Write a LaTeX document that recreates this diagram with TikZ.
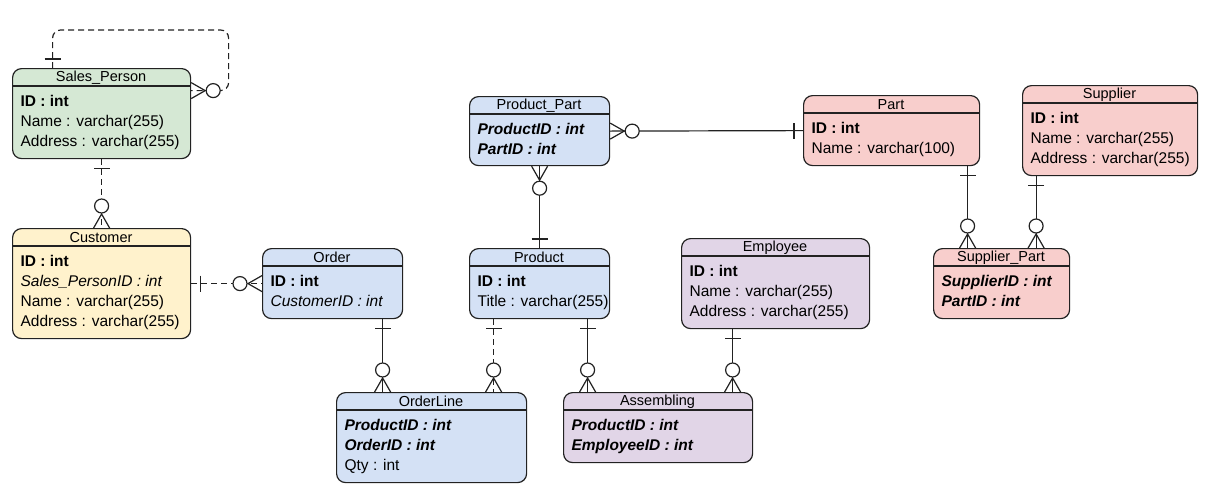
\documentclass[tikz,border=0pt]{standalone}
\usepackage{fontspec}
\setmainfont{Liberation Sans}
\usetikzlibrary{calc}
\definecolor{cgreen}{HTML}{D5E8D4}
\definecolor{cyellow}{HTML}{FFF2CC}
\definecolor{cblue}{HTML}{D4E1F5}
\definecolor{cred}{HTML}{F8CECC}
\definecolor{cpurple}{HTML}{E1D5E7}
\definecolor{edge}{HTML}{222222}
\newcommand\entity[8]{%
  \node[box, fill=#6, minimum width={#4pt-#2pt}, minimum height={#5pt-#3pt}, anchor=north west] (#1) at (#2,#3) {};
  \draw[edge] (#2,#3+18) -- (#4,#3+18);
  \node[font=\fontsize{14.5}{16}\selectfont] at ({(#2+#4)/2},#3+9.5) {#7};
  \node[rows] at (#2+5,#3+24) {#8};
}
\newcommand\mone[2]{\begin{scope}[shift={(#1)},rotate=#2]\draw[solid,edge] (9,-8)--(9,8);\end{scope}}
\newcommand\mmany[2]{\begin{scope}[shift={(#1)},rotate=#2]\draw[solid,edge] (0,-8)--(14,0)--(0,8); \draw[solid,edge,fill=white] (22,0) circle (7pt);\end{scope}}
\begin{document}
\begin{tikzpicture}[x=1pt,y=-1pt,line width=1.2pt,
  box/.style={draw=edge, rounded corners=9pt, inner sep=0pt},
  rows/.style={anchor=north west, align=left, inner sep=3pt, font=\fontsize{15.5}{20}\selectfont},
  conn/.style={edge},
  dsh/.style={edge, dash pattern=on 6pt off 4pt}]
\fill[white] (0,0) rectangle (1218,496);
\useasboundingbox (0,0) rectangle (1218,496);
\entity{sp}{12}{68}{190}{158}{cgreen}{Sales\_Person}{\textbf{ID : int}\\Name : varchar(255)\\Address : varchar(255)}
\entity{cu}{12}{228}{190}{338}{cyellow}{Customer}{\textbf{ID : int}\\\textit{Sales\_PersonID : int}\\Name : varchar(255)\\Address : varchar(255)}
\entity{or}{262}{248}{402}{318}{cblue}{Order}{\textbf{ID : int}\\\textit{CustomerID : int}}
\entity{pp}{469}{96}{609}{165}{cblue}{Product\_Part}{\textbf{\textit{ProductID : int}}\\\textbf{\textit{PartID : int}}}
\entity{pr}{469}{248}{609}{318}{cblue}{Product}{\textbf{ID : int}\\Title : varchar(255)}
\entity{pa}{803}{95}{979}{165}{cred}{Part}{\textbf{ID : int}\\Name : varchar(100)}
\entity{su}{1022}{85}{1197}{175}{cred}{Supplier}{\textbf{ID : int}\\Name : varchar(255)\\Address : varchar(255)}
\entity{sup}{933}{248}{1069}{318}{cred}{Supplier\_Part}{\textbf{\textit{SupplierID : int}}\\\textbf{\textit{PartID : int}}}
\entity{em}{681}{238}{869}{328}{cpurple}{Employee}{\textbf{ID : int}\\Name : varchar(255)\\Address : varchar(255)}
\entity{ol}{336}{392}{526}{482}{cblue}{OrderLine}{\textbf{\textit{ProductID : int}}\\\textbf{\textit{OrderID : int}}\\Qty : int}
\entity{as}{563}{392}{752}{462}{cpurple}{Assembling}{\textbf{\textit{ProductID : int}}\\\textbf{\textit{EmployeeID : int}}}
% self loop
\coordinate (a1) at ([xshift=-49pt]sp.north);
\coordinate (b1) at ([yshift=23pt]sp.east);
\draw[dsh, rounded corners=8pt] (a1) -- ++(0,-38) -- ++(176,0) |- (b1);
\mone{a1}{90}\mmany{b1}{0}
\draw[dsh] (sp.south) -- (cu.north); \mone{sp.south}{-90}\mmany{cu.north}{90}
\draw[dsh] (cu.east) -- (or.west); \mone{cu.east}{0}\mmany{or.west}{180}
\draw[conn] (pp.east) -- (pa.west); \mmany{pp.east}{0}\mone{pa.west}{180}
\draw[conn] (pp.south) -- (pr.north); \mmany{pp.south}{-90}\mone{pr.north}{90}
\draw[conn] ([xshift=50pt]or.south) coordinate (c1) -- (c1 |- ol.north) coordinate (c2); \mone{c1}{-90}\mmany{c2}{90}
\draw[dsh] ([xshift=-46pt]pr.south) coordinate (d1) -- (d1 |- ol.north) coordinate (d2); \mone{d1}{-90}\mmany{d2}{90}
\draw[conn] ([xshift=48pt]pr.south) coordinate (e1) -- (e1 |- as.north) coordinate (e2); \mone{e1}{-90}\mmany{e2}{90}
\draw[conn] ([xshift=-43pt]em.south) coordinate (f1) -- (f1 |- as.north) coordinate (f2); \mone{f1}{-90}\mmany{f2}{90}
\draw[conn] ([xshift=76pt]pa.south) coordinate (g1) -- (g1 |- sup.north) coordinate (g2); \mone{g1}{-90}\mmany{g2}{90}
\draw[conn] ([xshift=-74pt]su.south) coordinate (h1) -- (h1 |- sup.north) coordinate (h2); \mone{h1}{-90}\mmany{h2}{90}
\end{tikzpicture}
\end{document}
